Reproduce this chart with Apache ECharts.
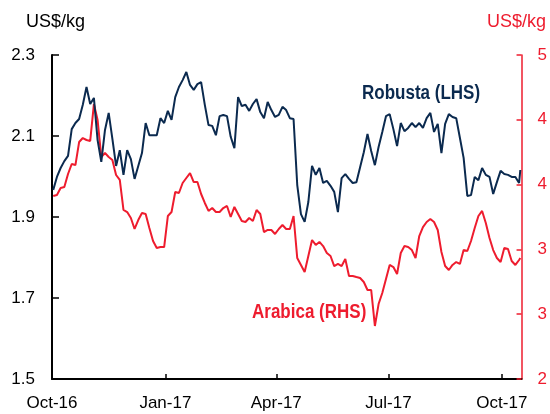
<!DOCTYPE html>
<html>
<head>
<meta charset="utf-8">
<script src="https://cdn.jsdelivr.net/npm/echarts@6/dist/echarts.min.js"></script>
<style>
  html, body { margin: 0; padding: 0; background: #fff; }
  #chart { width: 550px; height: 414px; }
</style>
</head>
<body>
<div id="chart"></div>
<script>
const dates = [
  '2016-10-02','2016-10-05','2016-10-08','2016-10-11','2016-10-14','2016-10-17','2016-10-20','2016-10-23','2016-10-26','2016-10-29',
  '2016-11-01','2016-11-04','2016-11-07','2016-11-10','2016-11-13','2016-11-16','2016-11-19','2016-11-22','2016-11-25','2016-11-28',
  '2016-12-01','2016-12-04','2016-12-07','2016-12-10','2016-12-13','2016-12-16','2016-12-19','2016-12-22','2016-12-25','2016-12-28','2016-12-31',
  '2017-01-03','2017-01-06','2017-01-09','2017-01-12','2017-01-15','2017-01-18','2017-01-21','2017-01-24','2017-01-27','2017-01-30',
  '2017-02-02','2017-02-05','2017-02-08','2017-02-11','2017-02-14','2017-02-17','2017-02-20','2017-02-23','2017-02-26',
  '2017-03-01','2017-03-04','2017-03-07','2017-03-10','2017-03-13','2017-03-16','2017-03-19','2017-03-22','2017-03-25','2017-03-28','2017-03-31',
  '2017-04-03','2017-04-06','2017-04-09','2017-04-12','2017-04-15','2017-04-18','2017-04-21','2017-04-24','2017-04-27','2017-04-30',
  '2017-05-03','2017-05-06','2017-05-09','2017-05-12','2017-05-15','2017-05-18','2017-05-21','2017-05-24','2017-05-27','2017-05-30',
  '2017-06-02','2017-06-05','2017-06-08','2017-06-11','2017-06-14','2017-06-17','2017-06-20','2017-06-23','2017-06-26','2017-06-29',
  '2017-07-02','2017-07-05','2017-07-08','2017-07-11','2017-07-14','2017-07-17','2017-07-20','2017-07-23','2017-07-26','2017-07-29',
  '2017-08-01','2017-08-04','2017-08-07','2017-08-10','2017-08-13','2017-08-16','2017-08-19','2017-08-22','2017-08-25','2017-08-28','2017-08-31',
  '2017-09-03','2017-09-06','2017-09-09','2017-09-12','2017-09-15','2017-09-18','2017-09-21','2017-09-24','2017-09-27','2017-09-30',
  '2017-10-03','2017-10-06','2017-10-09','2017-10-12','2017-10-15','2017-10-16'
]

// US$/kg, left axis
const robusta = [
  1.967, 1.999, 2.021, 2.038, 2.051, 2.117, 2.132, 2.142, 2.177, 2.221,
  2.179, 2.194, 2.090, 2.036, 2.115, 2.157, 2.093, 2.026, 2.065, 2.004,
  2.065, 2.043, 1.994, 2.026, 2.058, 2.132, 2.102, 2.102, 2.102, 2.144, 2.132,
  2.162, 2.140, 2.196, 2.221, 2.238, 2.258, 2.226, 2.214, 2.228, 2.233,
  2.177, 2.127, 2.125, 2.102, 2.149, 2.152, 2.149, 2.098, 2.070,
  2.196, 2.174, 2.177, 2.162, 2.179, 2.191, 2.159, 2.144, 2.184, 2.164, 2.147,
  2.152, 2.172, 2.164, 2.144, 2.142, 1.979, 1.907, 1.888, 1.937, 2.026,
  2.004, 2.021, 1.984, 1.989, 1.977, 1.962, 1.912, 1.996, 2.006, 1.994,
  1.984, 1.986, 2.023, 2.060, 2.105, 2.063, 2.028, 2.073, 2.110, 2.149,
  2.154, 2.117, 2.075, 2.132, 2.112, 2.120, 2.132, 2.122, 2.132, 2.120,
  2.144, 2.157, 2.110, 2.130, 2.058, 2.130, 2.154, 2.147, 2.144, 2.095, 2.046,
  1.952, 1.954, 1.999, 1.991, 2.021, 2.004, 1.999, 1.957, 1.986, 2.014,
  2.006, 2.004, 1.999, 1.999, 1.984, 2.016
]

// US$/kg, right axis
const arabica = [
  3.694, 3.704, 3.769, 3.778, 3.898, 3.991, 3.981, 4.194, 4.231, 4.213,
  4.204, 4.546, 4.398, 4.056, 4.093, 4.056, 4.028, 3.889, 3.843, 3.565,
  3.546, 3.491, 3.389, 3.472, 3.537, 3.528, 3.398, 3.278, 3.213, 3.222, 3.222,
  3.509, 3.546, 3.731, 3.722, 3.815, 3.861, 3.907, 3.824, 3.824, 3.713,
  3.630, 3.556, 3.583, 3.546, 3.546, 3.583, 3.602, 3.500, 3.593,
  3.528, 3.463, 3.454, 3.491, 3.463, 3.565, 3.528, 3.361, 3.380, 3.380, 3.343,
  3.389, 3.426, 3.389, 3.389, 3.509, 3.120, 3.056, 2.991, 3.139, 3.287,
  3.241, 3.269, 3.231, 3.167, 3.139, 3.046, 3.065, 3.046, 3.111, 2.954,
  2.954, 2.944, 2.935, 2.898, 2.824, 2.824, 2.491, 2.694, 2.796, 2.926,
  3.056, 3.037, 2.972, 3.167, 3.231, 3.222, 3.194, 3.120, 3.324, 3.407,
  3.454, 3.481, 3.454, 3.380, 3.176, 3.046, 3.009, 3.056, 3.083, 3.065, 3.194,
  3.185, 3.278, 3.398, 3.509, 3.556, 3.444, 3.306, 3.194, 3.120, 3.083,
  3.213, 3.204, 3.093, 3.056, 3.102, 3.120
]

const xTicks = ['2016-10-01', '2017-01-01', '2017-04-01', '2017-07-01', '2017-10-01']
const leftTicks = [1.5, 1.7, 1.9, 2.1, 2.3]
const rightTicks = [2, 2.6, 3.2, 3.8, 4.4, 5]

const NAVY = '#0b2a4f'
const RED = '#ee1c2e'
const FONT = '"Liberation Sans", Arial, sans-serif'
const MONTHS = ['Jan','Feb','Mar','Apr','May','Jun','Jul','Aug','Sep','Oct','Nov','Dec']

const toTime = s => new Date(s + 'T00:00:00').getTime()

const chart = echarts.init(document.getElementById('chart'))
chart.setOption({
  animation: false,
  grid: { left: 52, right: 27, top: 55, bottom: 35 },
  xAxis: {
    type: 'value',
    min: toTime('2016-10-01'),
    max: toTime('2017-10-17'),
    axisLine: { lineStyle: { color: '#000', width: 2 } },
    axisTick: { inside: true, length: 5, lineStyle: { color: '#000', width: 1.5 }, customValues: xTicks.map(toTime) },
    axisLabel: {
      customValues: xTicks.map(toTime),
      color: '#000', fontFamily: FONT, fontSize: 17, margin: 16,
      formatter: v => { const d = new Date(v); return MONTHS[d.getMonth()] + '-' + String(d.getFullYear()).slice(2) }
    },
    splitLine: { show: false }
  },
  yAxis: [
    {
      type: 'value', min: 1.5, max: 2.3,
      axisLine: { show: true, lineStyle: { color: '#000', width: 2 } },
      axisTick: { show: true, inside: true, length: 7, lineStyle: { color: '#000', width: 1.5 }, customValues: leftTicks },
      axisLabel: { customValues: leftTicks, color: '#000', fontFamily: FONT, fontSize: 17, margin: 17, formatter: v => v.toFixed(1) },
      splitLine: { show: false }
    },
    {
      type: 'value', min: 2, max: 5, position: 'right',
      axisLine: { show: true, lineStyle: { color: RED, width: 1.5 } },
      axisTick: { show: true, inside: true, length: 5, lineStyle: { color: RED, width: 1.5 }, customValues: rightTicks },
      axisLabel: { customValues: rightTicks, color: RED, fontFamily: FONT, fontSize: 17, margin: 16, formatter: v => String(Math.round(v)) },
      splitLine: { show: false }
    }
  ],
  graphic: [
    { type: 'text', left: 26, top: 13, style: { text: 'US$/kg', fill: '#000', font: '18px ' + FONT } },
    { type: 'text', left: 487, top: 13, style: { text: 'US$/kg', fill: RED, font: '18px ' + FONT } },
    { type: 'text', x: 362, y: 83, scaleX: 0.85, style: { text: 'Robusta (LHS)', fill: NAVY, font: 'bold 20px ' + FONT } },
    { type: 'text', x: 252, y: 302, scaleX: 0.85, style: { text: 'Arabica (RHS)', fill: RED, font: 'bold 20px ' + FONT } }
  ],
  series: [
    {
      name: 'Arabica (RHS)', type: 'line', yAxisIndex: 1, showSymbol: false,
      data: dates.map((d, i) => [toTime(d), arabica[i]]),
      lineStyle: { color: RED, width: 2 }
    },
    {
      name: 'Robusta (LHS)', type: 'line', yAxisIndex: 0, showSymbol: false,
      data: dates.map((d, i) => [toTime(d), robusta[i]]),
      lineStyle: { color: NAVY, width: 2 }
    }
  ]
})
</script>
</body>
</html>
